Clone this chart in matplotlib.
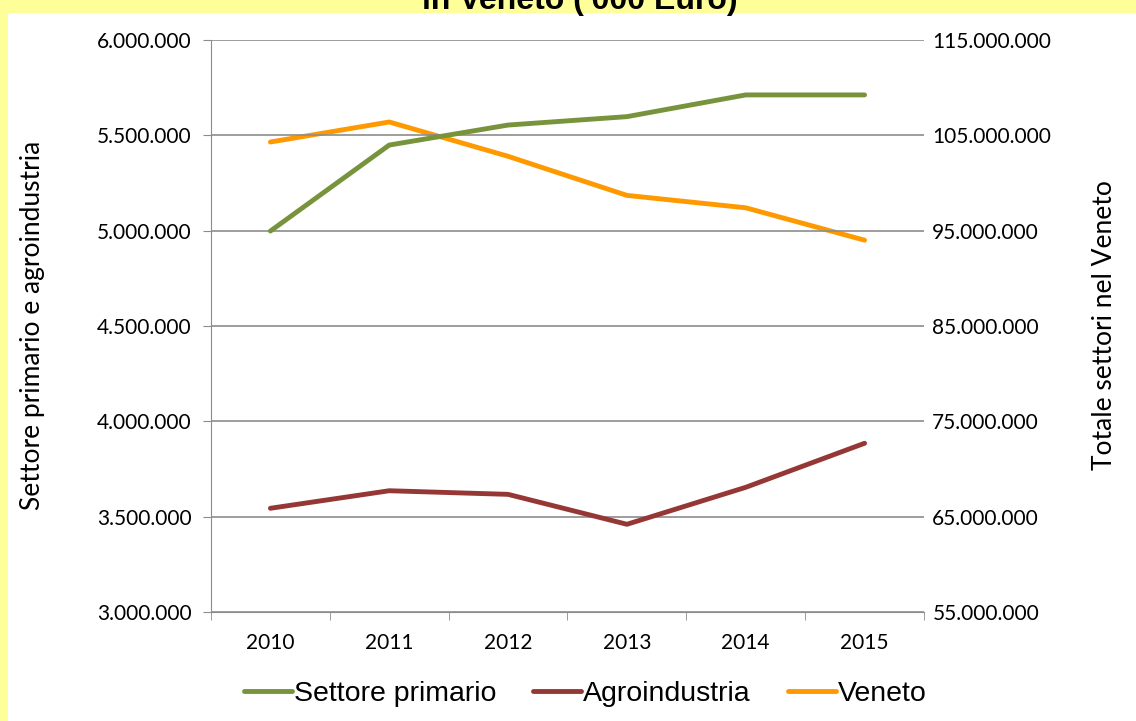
import matplotlib
matplotlib.use("Agg")
import matplotlib.pyplot as plt
from matplotlib.patches import Rectangle
from matplotlib.ticker import FuncFormatter

years = ["2010", "2011", "2012", "2013", "2014", "2015"]
settore_primario = [4998000, 5449000, 5554000, 5598000, 5712000, 5712000]
agroindustria = [3544000, 3636000, 3617000, 3460000, 3654000, 3885000]
veneto = [104300000, 106400000, 102800000, 98700000, 97400000, 94000000]

left_ticks = [3000000, 3500000, 4000000, 4500000, 5000000, 5500000, 6000000]
right_ticks = [55000000, 65000000, 75000000, 85000000, 95000000, 105000000, 115000000]

W, H = 1136, 721
fig = plt.figure(figsize=(W / 100, H / 100), dpi=100)
fig.patch.set_facecolor("#FFFF99")
bg = Rectangle((8 / W, 0), 1 - 8 / W, 1 - 13 / H, transform=fig.transFigure,
               facecolor="white", edgecolor="none", zorder=-10)
fig.patches.append(bg)

ax = fig.add_axes([211 / W, 1 - 612 / H, (924 - 211) / W, (612 - 40) / H])
ax2 = ax.twinx()
ax2.set_zorder(1)
ax.set_zorder(2)
ax.patch.set_visible(False)
ax2.patch.set_visible(False)

fmt = FuncFormatter(lambda v, p: f"{int(round(v)):,}".replace(",", "."))
TF = "Lato"

x = list(range(len(years)))
grey = "#8C8C8C"
for spine in ["top", "right"]:
    ax.spines[spine].set_visible(False)
    ax2.spines[spine].set_visible(False)
ax2.spines["left"].set_visible(False)
ax2.spines["bottom"].set_visible(False)
ax.spines["left"].set_color(grey)
ax.spines["bottom"].set_color(grey)

ax.plot(x, settore_primario, color="#77933C", lw=3.5, solid_capstyle="round", label="Settore primario")
ax.plot(x, agroindustria, color="#953735", lw=3.5, solid_capstyle="round", label="Agroindustria")
ax2.plot(x, veneto, color="#FF9900", lw=3.5, solid_capstyle="round", label="Veneto")

ax.set_xlim(-0.5, 5.5)
ax.set_ylim(3000000, 6000000)
ax2.set_ylim(55000000, 115000000)
ax.set_yticks(left_ticks)
ax2.set_yticks(right_ticks)
ax.yaxis.set_major_formatter(fmt)
ax2.yaxis.set_major_formatter(fmt)
ax.set_xticks(x)
ax.set_xticklabels(years)
ax.set_xticks([i - 0.5 for i in range(7)], minor=True)
ax.tick_params(axis="x", which="major", length=0, pad=15)
ax.tick_params(axis="x", which="minor", length=6, color=grey)
ax.tick_params(axis="y", length=6, color=grey, pad=8)
ax2.tick_params(axis="y", length=0, pad=6)
for lab in ax.get_xticklabels() + ax.get_yticklabels() + ax2.get_yticklabels():
    lab.set_fontfamily(TF)
    lab.set_fontsize(15)
ax.yaxis.grid(True, color=grey, lw=1.2)
ax.set_axisbelow(True)

fig.text(33 / W, 1 - 325 / H, "Settore primario e agroindustria", rotation=90, ha="center", va="center",
         family=TF, fontsize=19)
fig.text(1105 / W, 1 - 325 / H, "Totale settori nel Veneto", rotation=90, ha="center", va="center",
         family=TF, fontsize=19)
fig.text(580 / W, 1 - 9 / H, "in Veneto ('000 Euro)", ha="center", va="baseline",
         family="Liberation Sans", fontsize=23, fontweight="bold")

handles = ax.get_lines() + ax2.get_lines()
leg = fig.legend(handles, [h.get_label() for h in handles], loc="center", ncol=3,
                 bbox_to_anchor=(585 / W, 1 - 694 / H), frameon=False,
                 prop=dict(family="Liberation Sans", size=20.5), handlelength=1.7,
                 handletextpad=0.05, columnspacing=1.3)

fig.savefig("out.png", dpi=100, facecolor=fig.get_facecolor())
